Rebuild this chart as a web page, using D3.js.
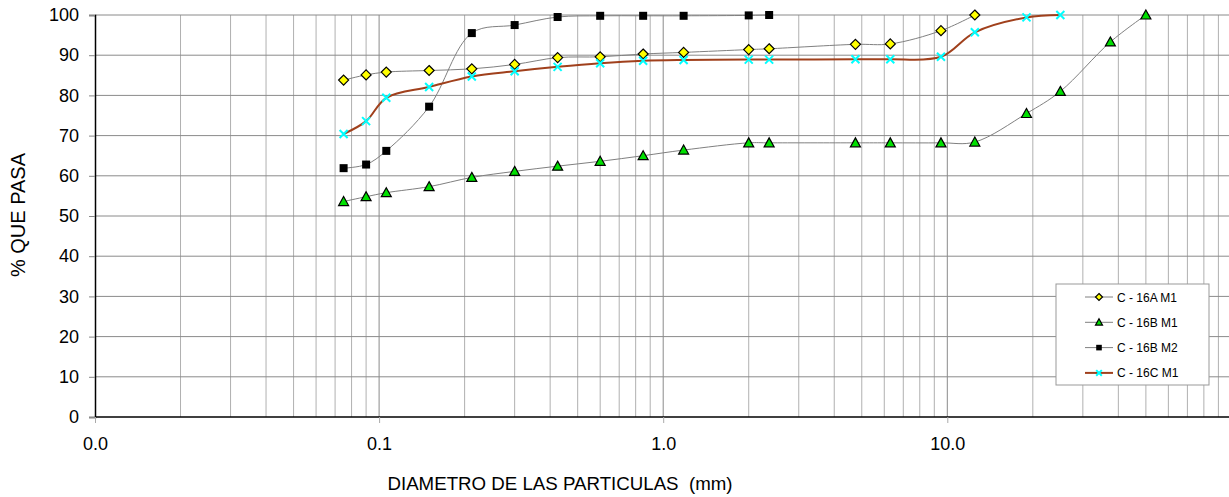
<!DOCTYPE html>
<html>
<head>
<meta charset="utf-8">
<script src="https://cdn.jsdelivr.net/npm/d3@7"></script>
<style>
  body { margin: 0; background: #fff; }
  text { font-family: Arial, "Liberation Sans", sans-serif; }
</style>
</head>
<body>
<svg id="chart" width="1229" height="497"></svg>
<script>
// sieve sizes (mm) and % passing for each sample
var sizes = [0.075, 0.09, 0.106, 0.15, 0.212, 0.3, 0.425, 0.6, 0.85, 1.18, 2.0, 2.36, 4.75, 6.3, 9.5, 12.5, 19, 25, 37.5, 50];

var c16aM1 = [83.8, 85.1, 85.8, 86.2, 86.6, 87.7, 89.4, 89.6, 90.3, 90.7, 91.4, 91.6, 92.7, 92.8, 96.1, 100];
var c16bM1 = [53.6, 54.8, 55.8, 57.3, 59.6, 61.1, 62.4, 63.6, 65.0, 66.4, 68.2, 68.2, 68.2, 68.2, 68.2, 68.4, 75.5, 81.0, 93.3, 100];
var c16bM2 = [61.9, 62.8, 66.2, 77.2, 95.5, 97.5, 99.5, 99.8, 99.8, 99.8, 99.9, 100];
var c16cM1 = [70.4, 73.6, 79.4, 82.1, 84.7, 86.0, 87.1, 88.0, 88.6, 88.8, 88.9, 88.9, 89.0, 89.0, 89.6, 95.7, 99.4, 100];

var seriesNames = ["C - 16A M1", "C - 16B M1", "C - 16B M2", "C - 16C M1"];
var xTickValues = [0.01, 0.1, 1, 10];
var xTickLabels = ["0.0", "0.1", "1.0", "10.0"];
var yTickValues = d3.range(0, 101, 10);

var series = [
  {name: seriesNames[0], values: c16aM1, marker: "diamond", line: "#808080", lw: 1},
  {name: seriesNames[1], values: c16bM1, marker: "triangle", line: "#808080", lw: 1},
  {name: seriesNames[2], values: c16bM2, marker: "square", line: "#808080", lw: 1},
  {name: seriesNames[3], values: c16cM1, marker: "cross", line: "#A0401C", lw: 2}
];

var svg = d3.select("#chart");
var plotLeft = 95, plotTop = 15, plotBottom = 417;

var x = d3.scaleLog().domain([0.01, 100]).range([plotLeft, plotLeft + 4 * 284.1]);
var y = d3.scaleLinear().domain([0, 100]).range([plotBottom, plotTop]);

// vertical grid on every minor log tick
var minor = [];
[0.01, 0.1, 1, 10].forEach(function(dec){
  for(var k = 1; k <= 9; k++) minor.push(+(dec * k).toPrecision(3));
});
svg.append("g").selectAll("line").data(minor.filter(function(d){ return d > 0.01; }))
  .enter().append("line")
  .attr("x1", function(d){ return x(d); }).attr("x2", function(d){ return x(d); })
  .attr("y1", plotTop).attr("y2", plotBottom)
  .attr("stroke", function(d){ return xTickValues.indexOf(d) >= 0 ? "#8a8a8a" : "#b0b0b0"; })
  .attr("stroke-width", 1);

// horizontal grid
svg.append("g").selectAll("line").data(yTickValues.filter(function(d){ return d > 0; }))
  .enter().append("line")
  .attr("x1", plotLeft).attr("x2", 1229)
  .attr("y1", function(d){ return y(d); }).attr("y2", function(d){ return y(d); })
  .attr("stroke", "#8a8a8a").attr("stroke-width", 1);

// y axis
var yAxis = svg.append("g").attr("transform", "translate(" + plotLeft + ",0)")
  .call(d3.axisLeft(y).tickValues(yTickValues).tickSize(6).tickPadding(10));
yAxis.select(".domain").attr("stroke", "#000").attr("stroke-width", 1.5);
yAxis.selectAll(".tick line").attr("stroke", "#888");
yAxis.selectAll("text").attr("font-size", 18).attr("fill", "#000")
  .style("font-family", "Arial, 'Liberation Sans', sans-serif");

// x axis
var xAxis = svg.append("g").attr("transform", "translate(0," + plotBottom + ")")
  .call(d3.axisBottom(x).tickValues(xTickValues)
    .tickFormat(function(d, i){ return xTickLabels[i]; })
    .tickSize(6).tickPadding(14));
xAxis.select(".domain").attr("d", "M" + plotLeft + ",0H1229").attr("stroke", "#000").attr("stroke-width", 1.5);
xAxis.selectAll(".tick line").attr("stroke", "#aaa");
xAxis.selectAll("text").attr("font-size", 18).attr("fill", "#000")
  .style("font-family", "Arial, 'Liberation Sans', sans-serif");

// axis titles
svg.append("text").attr("x", 560).attr("y", 490).attr("text-anchor", "middle")
  .attr("font-size", 18.7).attr("xml:space", "preserve").text("DIAMETRO DE LAS PARTICULAS  (mm)");
svg.append("text").attr("transform", "translate(25,215) rotate(-90)").attr("text-anchor", "middle")
  .attr("font-size", 20).text("% QUE PASA");

// lines
var line = d3.line()
  .x(function(d){ return x(d[0]); })
  .y(function(d){ return y(d[1]); })
  .curve(d3.curveCatmullRom.alpha(0.5));

function pts(s){
  return s.values.map(function(v, i){ return [sizes[i], v]; });
}

svg.append("g").selectAll("path").data(series).enter().append("path")
  .attr("d", function(s){ return line(pts(s)); })
  .attr("fill", "none")
  .attr("stroke", function(s){ return s.line; })
  .attr("stroke-width", function(s){ return s.lw; });

function drawMarker(g, type, cx, cy, sc){
  sc = sc || 1;
  if(type === "diamond"){
    var r = 5 * sc;
    g.append("path").attr("d", "M" + cx + "," + (cy - r) + "L" + (cx + r) + "," + cy + "L" + cx + "," + (cy + r) + "L" + (cx - r) + "," + cy + "Z")
      .attr("fill", "#FFFF00").attr("stroke", "#000").attr("stroke-width", 1.2);
  } else if(type === "triangle"){
    var t = 5 * sc;
    g.append("path").attr("d", "M" + cx + "," + (cy - t) + "L" + (cx + t) + "," + (cy + t * 0.8) + "L" + (cx - t) + "," + (cy + t * 0.8) + "Z")
      .attr("fill", "#00E000").attr("stroke", "#000").attr("stroke-width", 1.2);
  } else if(type === "square"){
    var q = 4 * sc;
    g.append("rect").attr("x", cx - q).attr("y", cy - q).attr("width", 2 * q).attr("height", 2 * q)
      .attr("fill", "#000");
  } else {
    var c = 4 * sc;
    g.append("path").attr("d", "M" + (cx - c) + "," + (cy - c) + "L" + (cx + c) + "," + (cy + c) + "M" + (cx - c) + "," + (cy + c) + "L" + (cx + c) + "," + (cy - c))
      .attr("stroke", "#00FFFF").attr("stroke-width", 2).attr("fill", "none");
  }
}

var markers = svg.append("g");
series.forEach(function(s){
  pts(s).forEach(function(p){
    drawMarker(markers, s.marker, x(p[0]), y(p[1]));
  });
});

// legend
var lg = svg.append("g").attr("transform", "translate(1056,284)");
lg.append("rect").attr("width", 153).attr("height", 101)
  .attr("fill", "#fff").attr("stroke", "#999").attr("stroke-width", 1);
series.forEach(function(s, i){
  var ly = 13 + i * 25.3;
  lg.append("line").attr("x1", 29).attr("x2", 57).attr("y1", ly).attr("y2", ly)
    .attr("stroke", s.line).attr("stroke-width", s.lw);
  drawMarker(lg, s.marker, 43, ly, 0.7);
  lg.append("text").attr("x", 61).attr("y", ly + 4.5).attr("font-size", 12).text(s.name);
});
</script>
</body>
</html>
